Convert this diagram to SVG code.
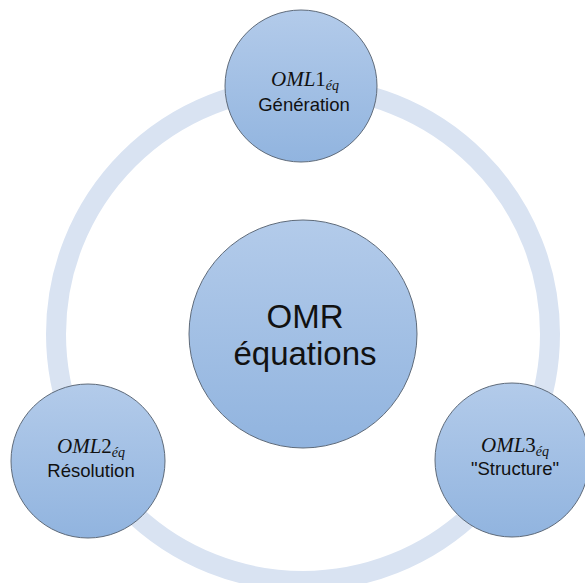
<svg xmlns="http://www.w3.org/2000/svg" width="585" height="583" viewBox="0 0 585 583">
<defs>
<linearGradient id="g" x1="0" y1="0" x2="0" y2="1">
<stop offset="0" stop-color="#b3cbea"/>
<stop offset="1" stop-color="#91b4df"/>
</linearGradient>
<style>
.node{fill:url(#g);stroke:#5f6b7a;stroke-width:1}
.m{font-family:"Liberation Serif",serif;font-style:italic;font-size:21px;fill:#111}
.up{font-style:normal}
.sub{font-size:14px}
.lbl{font-family:"Liberation Sans",Arial,sans-serif;font-size:18.5px;fill:#111}
.big{font-family:"Liberation Sans",Arial,sans-serif;font-size:33px;fill:#111}
</style>
</defs>
<rect width="585" height="583" fill="#fff"/>
<g id="connectors">
<circle cx="303" cy="334" r="247" fill="none" stroke="#d9e3f2" stroke-width="20"/>
</g>
<g id="center">
<circle class="node" cx="303" cy="334" r="114"/>
<text class="big" x="305" y="328" text-anchor="middle">OMR</text>
<text class="big" x="305" y="365" text-anchor="middle">équations</text>
</g>
<g id="n1">
<circle class="node" cx="301" cy="86" r="76"/>
<text class="m" x="305" y="86" text-anchor="middle">OML<tspan class="up">1</tspan><tspan class="sub" dy="4">éq</tspan></text>
<text class="lbl" x="304" y="111" text-anchor="middle">Génération</text>
</g>
<g id="n2">
<circle class="node" cx="88" cy="461" r="77"/>
<text class="m" x="91" y="453" text-anchor="middle">OML<tspan class="up">2</tspan><tspan class="sub" dy="4">éq</tspan></text>
<text class="lbl" x="91" y="477" text-anchor="middle">Résolution</text>
</g>
<g id="n3">
<circle class="node" cx="512" cy="460" r="77"/>
<text class="m" x="515" y="452" text-anchor="middle">OML<tspan class="up">3</tspan><tspan class="sub" dy="4">éq</tspan></text>
<text class="lbl" x="515" y="475" text-anchor="middle">"Structure"</text>
</g>
</svg>
